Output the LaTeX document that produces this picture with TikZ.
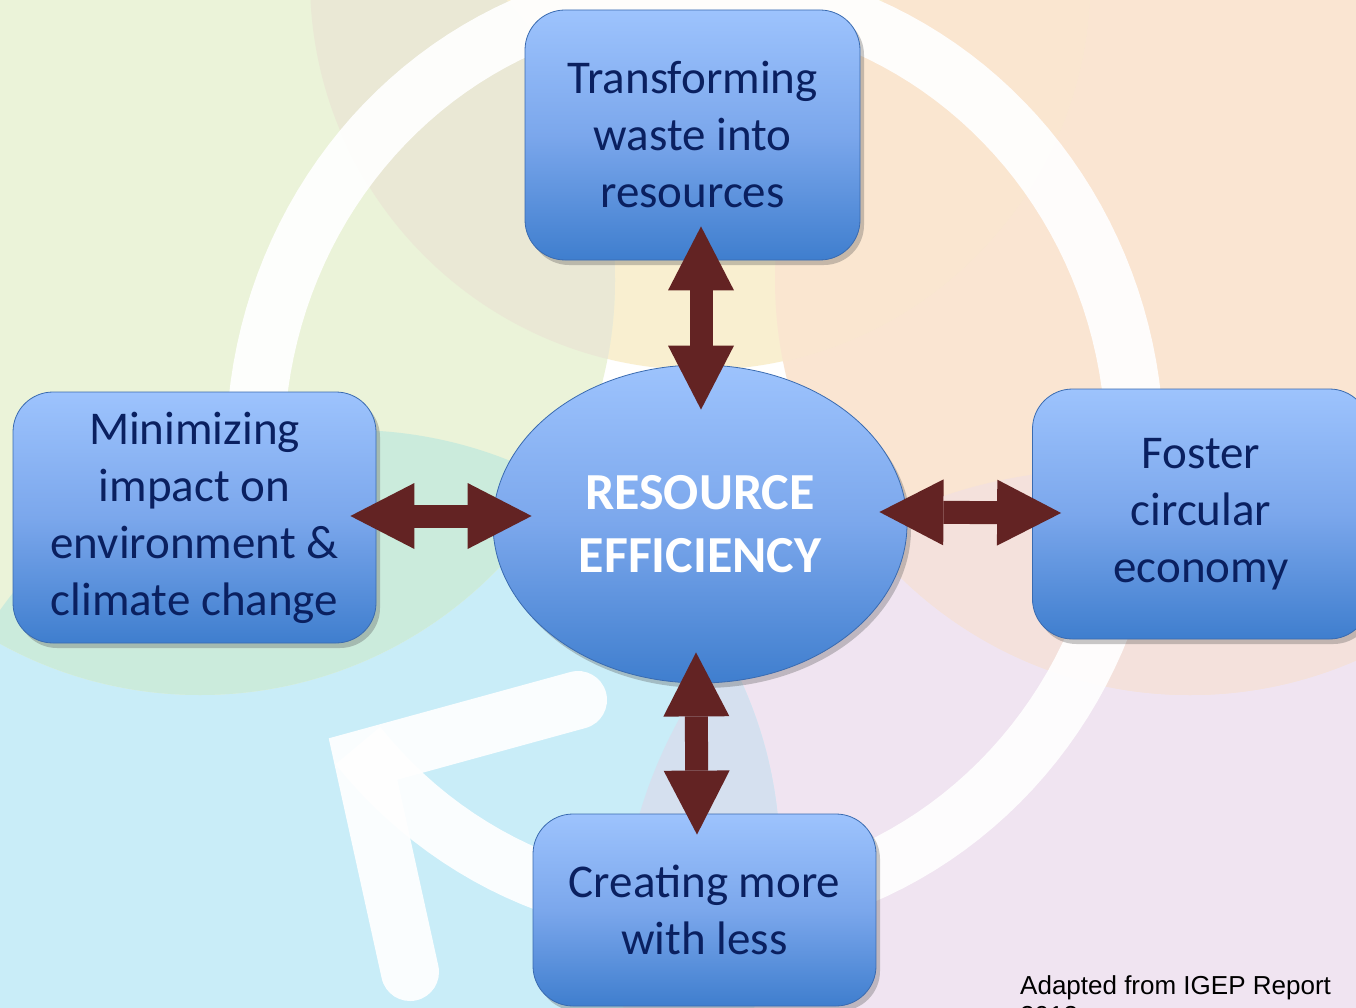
\documentclass[tikz,border=0pt]{standalone}
\usepackage{fontspec}
\setmainfont{Carlito}
\newfontfamily\capfont{Liberation Sans}
\usetikzlibrary{shapes.geometric,shadows,arrows.meta,calc}
\definecolor{cgreen}{HTML}{EBF3D9}
\definecolor{cyel}{HTML}{F9EFD0}
\definecolor{cbeige}{HTML}{EAE8D5}
\definecolor{cpeach}{HTML}{FAE5D2}
\definecolor{cyelpeach}{HTML}{FAE6D0}
\definecolor{cblue}{HTML}{C9EDF8}
\definecolor{cmint}{HTML}{CBEBDC}
\definecolor{clav}{HTML}{F0E4F1}
\definecolor{cpeachlav}{HTML}{F4E1DC}
\definecolor{cbluelav}{HTML}{D5E0EF}
\definecolor{cboxtop}{HTML}{9DC3FD}
\definecolor{cboxmid}{HTML}{7BA7EC}
\definecolor{cboxbot}{HTML}{3F7ECE}
\definecolor{cborder}{HTML}{3A6BB0}
\definecolor{cnavy}{HTML}{0A2060}
\definecolor{carrow}{HTML}{632323}
\tikzset{
  ringst/.style={draw=white, line width=58pt, opacity=0.92},
  box/.style={rectangle, rounded corners=40pt, draw=cborder, line width=0.8pt,
    top color=cboxtop, bottom color=cboxbot, middle color=cboxmid,
    drop shadow={shadow xshift=4pt, shadow yshift=-5pt, opacity=0.3, fill=black!70},
    align=center, text=cnavy, font=\fontsize{47}{57}\selectfont, inner sep=0pt},
  centreell/.style={ellipse, draw=cborder, line width=0.8pt,
    top color=cboxtop, bottom color=cboxbot, middle color=cboxmid,
    drop shadow={shadow xshift=4pt, shadow yshift=-5pt, opacity=0.3, fill=black!70},
    align=center, text=white, font=\bfseries\fontsize{52}{63}\selectfont, inner sep=0pt,
    minimum width=414pt, minimum height=318pt},
  blockarr/.style={draw=carrow, line width=23pt,
    {Triangle[length=64pt,width=66pt,line width=0pt]}-{Triangle[length=64pt,width=66pt,line width=0pt]}}
}
\begin{document}
\begin{tikzpicture}[x=1pt,y=-1pt]
\useasboundingbox (0,0) rectangle (1356,1008);
% background
\fill[white] (0,0) rectangle (1356,1008);
\fill[clav] (1100,950) circle[radius=480pt];
\fill[cblue] (350,860) circle[radius=430pt];
\fill[cpeach] (1190,280) circle[radius=415pt];
\fill[cyel] (700,-20) circle[radius=390pt];
\fill[cgreen] (200,280) circle[radius=415pt];
\begin{scope}
  \clip (200,280) circle[radius=415pt];
  \fill[cbeige] (700,-20) circle[radius=390pt];
  \fill[cmint] (350,860) circle[radius=430pt];
\end{scope}
\begin{scope}
  \clip (1190,280) circle[radius=415pt];
  \fill[cyelpeach] (700,-20) circle[radius=390pt];
  \fill[cpeachlav] (1100,950) circle[radius=480pt];
\end{scope}
\begin{scope}
  \clip (350,860) circle[radius=430pt];
  \fill[cbluelav] (1100,950) circle[radius=480pt];
\end{scope}
% faded circular arrow
\draw[ringst] plot[domain=-140:185, samples=150] ({695+440*cos(\x)},{450-460*sin(\x)});
\draw[ringst, line cap=round, line join=miter] (578,700) -- (363,759) -- (410,972);
% nodes
\node[box, minimum width=335pt, minimum height=250pt] (top) at (692.5,135) {Transforming\\waste into\\resources};
\node[box, minimum width=363pt, minimum height=251pt] (left) at (194.5,517.5) {Minimizing\\impact on\\environment \&\\climate change};
\node[box, minimum width=337pt, minimum height=250pt] (right) at (1201,514) {Foster\\circular\\economy};
\node[box, minimum width=343pt, minimum height=192pt] (bot) at (704.5,910) {Creating more\\with less};
\node[centreell] (ell) at (700,524) {RESOURCE\\EFFICIENCY};
% arrows
\draw[blockarr] ([xshift=8.5pt,yshift=34pt]top.south) -- ([xshift=1pt,yshift=-45pt]ell.north);
\draw[blockarr] ([xshift=-26pt,yshift=1.5pt]left.east) -- ([xshift=39pt,yshift=8pt]ell.west);
\draw[blockarr] ([xshift=-28pt,yshift=12pt]ell.east) -- ([xshift=29pt,yshift=1pt]right.west);
\draw[blockarr] ([xshift=-4pt,yshift=31pt]ell.south) -- ([xshift=-7.5pt,yshift=-21pt]bot.north);
% caption
\node[anchor=base west, font=\capfont\fontsize{26}{30}\selectfont, align=left, inner sep=0pt] (cap) at (1020,1024) {Adapted from IGEP Report\\2013};
\end{tikzpicture}
\end{document}
